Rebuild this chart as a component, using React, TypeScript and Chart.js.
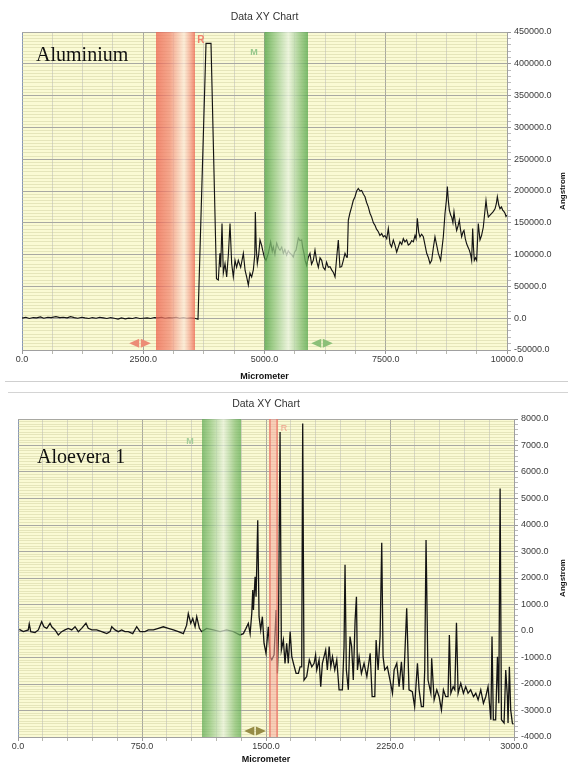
import React, { useEffect, useRef } from 'react';
import { Chart, registerables } from 'chart.js';
Chart.register(...registerables);

// ---------- Chart 1: Aluminium ----------
const alX = [0, 80, 150, 230, 300, 380, 450, 530, 600, 700, 780, 850, 930, 1000, 1080, 1150, 1230, 1300, 1380, 1450, 1530, 1600, 1680, 1750, 1830, 1900, 1980, 2050, 2130, 2200, 2280, 2350, 2430, 2500, 2580, 2650, 2730, 2800, 2880, 2950, 3030, 3100, 3180, 3250, 3330, 3400, 3480, 3560, 3629, 3794, 3897, 4010, 4048, 4080, 4096, 4124, 4151, 4186, 4220, 4255, 4289, 4323, 4357, 4392, 4425, 4460, 4509, 4564, 4600, 4632, 4667, 4701, 4735, 4770, 4800, 4811, 4830, 4852, 4880, 4907, 4940, 4962, 5000, 5031, 5079, 5127, 5160, 5182, 5215, 5251, 5290, 5320, 5355, 5388, 5420, 5457, 5490, 5526, 5560, 5594, 5620, 5650, 5698, 5730, 5766, 5790, 5814, 5840, 5869, 5900, 5938, 5970, 6006, 6041, 6075, 6110, 6145, 6179, 6210, 6247, 6280, 6316, 6351, 6385, 6420, 6454, 6488, 6522, 6555, 6591, 6625, 6660, 6694, 6708, 6728, 6760, 6797, 6830, 6866, 6900, 6934, 6970, 7003, 7040, 7072, 7105, 7140, 7175, 7209, 7245, 7278, 7310, 7347, 7380, 7416, 7450, 7484, 7520, 7553, 7588, 7620, 7656, 7690, 7725, 7760, 7794, 7830, 7862, 7895, 7931, 7965, 8000, 8035, 8069, 8103, 8125, 8151, 8180, 8206, 8240, 8275, 8310, 8344, 8380, 8412, 8447, 8480, 8515, 8550, 8584, 8632, 8660, 8687, 8722, 8750, 8770, 8790, 8811, 8840, 8860, 8885, 8907, 8935, 8962, 8990, 9017, 9040, 9065, 9090, 9113, 9140, 9168, 9195, 9223, 9250, 9271, 9292, 9310, 9326, 9350, 9374, 9408, 9443, 9475, 9511, 9540, 9567, 9590, 9615, 9650, 9684, 9720, 9753, 9780, 9801, 9830, 9856, 9885, 9911, 9935, 9959, 9980, 10000];
const alY = [0, 1500, -500, 1000, 500, 2000, 0, 1500, 1000, 2500, 1000, 1500, 500, 2500, 1000, 0, 1500, 500, -500, 1000, 0, 1500, 500, -500, 1000, 0, -1500, 500, -1000, 0, -500, 1000, -500, 0, 500, -500, 1000, 500, 1500, 0, 1000, 500, 1500, 0, 1000, 0, 500, 0, -1500, 432000, 432000, 62000, 60000, 102000, 80000, 149000, 71000, 86000, 65000, 100000, 149000, 86000, 65000, 91000, 80000, 91000, 80000, 102000, 75000, 65000, 52000, 71000, 65000, 76000, 100000, 167000, 110000, 86000, 100000, 123000, 115000, 107000, 95000, 91000, 102000, 120000, 105000, 112000, 100000, 118000, 110000, 107000, 112000, 102000, 108000, 99000, 106000, 102000, 100000, 96000, 104000, 107000, 126000, 122000, 123000, 110000, 102000, 90000, 83000, 95000, 102000, 85000, 91000, 107000, 90000, 80000, 95000, 91000, 80000, 76000, 88000, 80000, 81000, 76000, 72000, 65000, 95000, 123000, 80000, 81000, 91000, 102000, 96000, 96000, 154000, 165000, 175000, 185000, 191000, 200000, 204000, 200000, 201000, 195000, 191000, 182000, 175000, 165000, 159000, 150000, 146000, 140000, 136000, 130000, 133000, 128000, 130000, 125000, 141000, 117000, 112000, 123000, 115000, 104000, 112000, 120000, 116000, 125000, 120000, 123000, 115000, 117000, 122000, 120000, 130000, 125000, 157000, 135000, 128000, 132000, 128000, 115000, 102000, 95000, 86000, 91000, 110000, 128000, 115000, 102000, 91000, 110000, 128000, 165000, 185000, 207000, 185000, 170000, 162000, 159000, 150000, 167000, 150000, 138000, 145000, 154000, 140000, 128000, 135000, 138000, 125000, 117000, 112000, 107000, 100000, 91000, 141000, 110000, 91000, 95000, 91000, 149000, 123000, 130000, 143000, 165000, 185000, 170000, 159000, 162000, 165000, 168000, 172000, 180000, 191000, 178000, 172000, 175000, 170000, 168000, 165000, 160000, 162000];
const alBandR = [2763, 3567];
const alBandM = [5000, 5897];

// ---------- Chart 2: Aloevera 1 ----------
const aloeX = [8, 32, 62, 68, 77, 103, 123, 143, 157, 174, 194, 204, 224, 244, 264, 284, 304, 325, 345, 365, 385, 411, 425, 446, 476, 506, 537, 557, 567, 587, 607, 627, 647, 667, 694, 718, 738, 768, 788, 819, 849, 879, 909, 940, 970, 1000, 1020, 1030, 1045, 1057, 1071, 1081, 1097, 1111, 1141, 1181, 1222, 1262, 1303, 1343, 1363, 1379, 1393, 1404, 1414, 1420, 1424, 1434, 1440, 1450, 1458, 1468, 1478, 1488, 1500, 1514, 1525, 1535, 1549, 1561, 1569, 1575, 1585, 1593, 1605, 1615, 1625, 1635, 1646, 1656, 1666, 1682, 1696, 1706, 1716, 1722, 1730, 1746, 1762, 1777, 1791, 1800, 1807, 1821, 1831, 1841, 1851, 1861, 1871, 1882, 1892, 1902, 1916, 1928, 1942, 1962, 1972, 1978, 1986, 1998, 2008, 2018, 2028, 2039, 2047, 2053, 2063, 2077, 2093, 2110, 2130, 2142, 2158, 2166, 2178, 2190, 2200, 2208, 2218, 2234, 2250, 2265, 2275, 2291, 2305, 2319, 2331, 2351, 2365, 2385, 2399, 2416, 2426, 2440, 2452, 2460, 2468, 2480, 2497, 2502, 2517, 2533, 2547, 2561, 2573, 2587, 2601, 2609, 2618, 2632, 2642, 2652, 2662, 2678, 2694, 2708, 2722, 2738, 2755, 2769, 2783, 2799, 2815, 2829, 2843, 2860, 2867, 2875, 2889, 2900, 2908, 2916, 2924, 2940, 2950, 2960, 2964, 2972, 2980, 2990, 2996];
const aloeY = [60, -25, 40, 265, -25, -60, 40, 350, 160, 100, 290, 160, 40, -150, -25, 40, 100, 40, 160, -25, 100, 290, 100, 40, 40, -25, -100, -25, 160, 40, -25, 40, -25, -25, -100, 160, -25, -25, 40, 40, 100, 160, 100, 40, -25, -100, 220, 660, 290, 470, 160, 540, 100, -25, 100, 40, -25, 40, -25, -150, -100, 100, 290, -100, 670, 1550, 790, 2050, 1290, 4180, 540, 40, 540, -460, -840, 160, -970, -1090, -900, 790, -1600, -210, 7510, -720, -340, -1220, -460, -1220, -25, -970, -1220, -1600, -1600, -1350, -1350, 7830, -1850, -1720, -1090, -1350, -1220, -900, -1470, -1090, -2100, -1220, -970, -720, -1470, -590, -1350, -970, -1470, -1090, -2220, -2220, -590, 2500, -1470, -2220, -210, -590, -1850, 410, 1290, -1470, -970, -1600, -1220, -1720, -840, -2480, -2480, -340, -1470, -210, 3330, -970, -1470, -1350, -1850, -2350, -1470, -1220, -2100, -1160, -2220, 860, -2220, -2290, -2850, -1220, -2220, -2850, -2850, -1470, 3430, -1850, -2350, -1030, -2600, -2220, -2480, -2980, -2220, -2480, -2480, -150, -2350, -2100, -2220, 310, -2350, -1970, -2350, -2100, -2350, -2220, -2480, -2350, -2600, -2220, -2730, -2480, -2100, -3350, -210, -3350, -3350, -970, -2730, 5380, -3350, -3470, -1470, -2480, -3470, -1350, -2980, -3470, -3520];
const aloeBandM = [1113, 1349];
const aloeBandR = [1524, 1567];

const FONT = '"Liberation Sans", Arial, sans-serif';

type Cfg = {
  xs: number[]; ys: number[];
  xMin: number; xMax: number; xStep: number; xMajor: number;
  yMin: number; yMax: number; yStep: number; yMajor: number; yTickEvery: number;
  padTop: number; padLeft: number; yW: number; xH: number; lineW: number;
  name: string; nameAt: [number, number];
  draw: (ctx: CanvasRenderingContext2D, sx: (v: number) => number, sy: (v: number) => number, a: any) => void;
};

function grad(ctx: CanvasRenderingContext2D, x0: number, x1: number, stops: [number, string][]) {
  const g = ctx.createLinearGradient(x0, 0, x1, 0);
  stops.forEach(([o, c]) => g.addColorStop(o, c));
  return g;
}

function pair(ctx: CanvasRenderingContext2D, cx: number, cy: number, color: string) {
  const w = 10, h = 9, gap = 0.8;
  ctx.fillStyle = color;
  ctx.beginPath(); ctx.moveTo(cx - gap, cy - h / 2); ctx.lineTo(cx - gap, cy + h / 2); ctx.lineTo(cx - gap - w, cy); ctx.closePath(); ctx.fill();
  ctx.beginPath(); ctx.moveTo(cx + gap, cy - h / 2); ctx.lineTo(cx + gap, cy + h / 2); ctx.lineTo(cx + gap + w, cy); ctx.closePath(); ctx.fill();
}

function tag(ctx: CanvasRenderingContext2D, text: string, x: number, y: number, color: string, font: string) {
  ctx.fillStyle = color; ctx.font = font; ctx.textAlign = 'center'; ctx.textBaseline = 'middle';
  ctx.fillText(text, x, y);
}

function makeChart(canvas: HTMLCanvasElement, c: Cfg) {
  const isMaj = (v: number, m: number) => Math.abs(v / m - Math.round(v / m)) < 1e-6;
  const plugin = {
    id: 'deco_' + c.name.replace(/\s/g, ''),
    beforeDraw(chart: any) {
      const { ctx, chartArea: a } = chart;
      ctx.save();
      ctx.fillStyle = '#FAFAD4';
      ctx.fillRect(a.left, a.top, a.right - a.left, a.bottom - a.top);
      ctx.restore();
    },
    afterDatasetsDraw(chart: any) {
      const { ctx, chartArea: a } = chart;
      const sx = (v: number) => chart.scales.x.getPixelForValue(v);
      const sy = (v: number) => chart.scales.y.getPixelForValue(v);
      ctx.save();
      c.draw(ctx, sx, sy, a);
      ctx.globalAlpha = 1;
      ctx.fillStyle = '#111';
      ctx.font = '20px "Liberation Serif", "Times New Roman", serif';
      ctx.textAlign = 'left'; ctx.textBaseline = 'alphabetic';
      ctx.fillText(c.name, sx(c.nameAt[0]), sy(c.nameAt[1]));
      ctx.fillStyle = '#333';
      ctx.font = '10.5px ' + FONT;
      ctx.textAlign = 'center'; ctx.textBaseline = 'middle';
      ctx.fillText('Data XY Chart', (a.left + a.right) / 2, a.top - 15);
      ctx.translate(chart.width - 5, (a.top + a.bottom) / 2);
      ctx.rotate(-Math.PI / 2);
      ctx.fillStyle = '#111';
      ctx.font = 'bold 8px ' + FONT;
      ctx.fillText('Angstrom', 0, 0);
      ctx.restore();
    },
  };
  return new Chart(canvas, {
    type: 'line',
    data: {
      datasets: [{
        data: c.xs.map((x, i) => ({ x, y: c.ys[i] })),
        borderColor: '#141414', borderWidth: c.lineW, pointRadius: 0, tension: 0, fill: false,
      }],
    },
    options: {
      responsive: false, animation: false,
      layout: { padding: { top: c.padTop, left: c.padLeft, right: 0, bottom: 0 } },
      plugins: { legend: { display: false }, tooltip: { enabled: false }, title: { display: false } },
      scales: {
        x: {
          type: 'linear', position: 'bottom', min: c.xMin, max: c.xMax,
          afterFit: (s: any) => { s.height = c.xH; },
          ticks: {
            stepSize: c.xStep, autoSkip: false, maxRotation: 0, padding: 0,
            color: '#3a3a3a', font: { family: FONT, size: 9 },
            callback: (v: any) => (isMaj(Number(v), c.xMajor) ? Number(v).toFixed(1) : ''),
          },
          grid: {
            lineWidth: 1, tickLength: 4,
            color: (ctx: any) => {
              const v = ctx.tick ? ctx.tick.value : 0;
              if (v === c.xMin) return '#8796b8';
              return isMaj(v, c.xMajor) ? '#a8a8a2' : '#d8d8c6';
            },
            tickColor: (ctx: any) => (ctx.tick && isMaj(ctx.tick.value, c.xMajor) ? '#999' : '#b8b8b0'),
          },
          border: { color: '#a0a0a0' },
          title: { display: true, text: 'Micrometer', color: '#111', font: { family: FONT, size: 9, weight: 'bold', lineHeight: 1 }, padding: { top: 0, bottom: -1 } },
        },
        y: {
          type: 'linear', position: 'right', min: c.yMin, max: c.yMax,
          afterFit: (s: any) => { s.width = c.yW; },
          ticks: {
            stepSize: c.yStep, autoSkip: false, padding: 3,
            color: '#3a3a3a', font: { family: FONT, size: 9 },
            callback: (v: any) => (isMaj(Number(v), c.yMajor) ? Number(v).toFixed(1) : ''),
          },
          grid: {
            lineWidth: 1, tickLength: 4,
            color: (ctx: any) => {
              const v = ctx.tick ? ctx.tick.value : 0;
              return isMaj(v, c.yMajor) ? '#a8a8a2' : 'rgba(200,200,150,0.42)';
            },
            tickColor: (ctx: any) => {
              const v = ctx.tick ? ctx.tick.value : 0;
              if (isMaj(v, c.yMajor)) return '#999';
              return isMaj(v, c.yTickEvery) ? '#bbb' : 'rgba(0,0,0,0)';
            },
          },
          border: { color: '#a0a0a0' },
        },
      },
    } as any,
    plugins: [plugin],
  });
}

export default function App() {
  const r1 = useRef<HTMLCanvasElement>(null);
  const r2 = useRef<HTMLCanvasElement>(null);
  useEffect(() => {
    const c1 = makeChart(r1.current!, {
      xs: alX, ys: alY, xMin: 0, xMax: 10000, xStep: 625, xMajor: 2500,
      yMin: -50000, yMax: 450000, yStep: 5000, yMajor: 50000, yTickEvery: 10000,
      padTop: 32, padLeft: 22, yW: 61, xH: 30, lineW: 1.15,
      name: 'Aluminium', nameAt: [289, 404000],
      draw: (ctx, sx, sy, a) => {
        let x0 = sx(alBandR[0]), x1 = sx(alBandR[1]);
        ctx.globalAlpha = 0.74;
        ctx.fillStyle = grad(ctx, x0, x1, [[0, 'rgb(238,96,76)'], [0.35, 'rgb(243,136,114)'], [0.72, 'rgb(252,232,216)'], [0.88, 'rgb(245,160,140)'], [1, 'rgb(238,96,76)']]);
        ctx.fillRect(x0, a.top, x1 - x0, a.bottom - a.top);
        x0 = sx(alBandM[0]); x1 = sx(alBandM[1]);
        ctx.globalAlpha = 0.78;
        ctx.fillStyle = grad(ctx, x0, x1, [[0, 'rgb(80,162,70)'], [0.2, 'rgb(138,195,122)'], [0.55, 'rgb(232,242,222)'], [0.85, 'rgb(132,190,115)'], [1, 'rgb(88,168,78)']]);
        ctx.fillRect(x0, a.top, x1 - x0, a.bottom - a.top);
        ctx.globalAlpha = 1;
        tag(ctx, 'R', sx(3690), sy(437000), 'rgb(240,128,108)', 'bold 10px ' + FONT);
        tag(ctx, 'M', sx(4783), sy(418000), 'rgb(150,200,140)', 'bold 9px ' + FONT);
        pair(ctx, sx(2433), sy(-39300), 'rgb(236,140,118)');
        pair(ctx, sx(6186), sy(-39300), 'rgb(140,192,120)');
      },
    });
    const c2 = makeChart(r2.current!, {
      xs: aloeX, ys: aloeY, xMin: 0, xMax: 3000, xStep: 150, xMajor: 750,
      yMin: -4000, yMax: 8000, yStep: 100, yMajor: 1000, yTickEvery: 200,
      padTop: 27, padLeft: 18, yW: 54, xH: 26, lineW: 1.3,
      name: 'Aloevera 1', nameAt: [115, 6330],
      draw: (ctx, sx, sy, a) => {
        let x0 = sx(aloeBandM[0]), x1 = sx(aloeBandM[1]);
        ctx.globalAlpha = 0.72;
        ctx.fillStyle = grad(ctx, x0, x1, [[0, 'rgb(90,168,80)'], [0.2, 'rgb(138,195,122)'], [0.55, 'rgb(230,241,220)'], [0.85, 'rgb(132,190,115)'], [1, 'rgb(95,172,84)']]);
        ctx.fillRect(x0, a.top, x1 - x0, a.bottom - a.top);
        x0 = sx(aloeBandR[0]); x1 = sx(aloeBandR[1]);
        ctx.globalAlpha = 0.55;
        ctx.fillStyle = 'rgb(246,170,158)';
        ctx.fillRect(x0 - 1, a.top, x1 - x0 + 2, a.bottom - a.top);
        ctx.globalAlpha = 0.75;
        ctx.strokeStyle = 'rgb(232,110,95)'; ctx.lineWidth = 1.5;
        ctx.beginPath(); ctx.moveTo(x0, a.top); ctx.lineTo(x0, a.bottom); ctx.moveTo(x1, a.top); ctx.lineTo(x1, a.bottom); ctx.stroke();
        ctx.globalAlpha = 1;
        tag(ctx, 'M', sx(1040), sy(7160), 'rgb(165,205,155)', 'bold 9px ' + FONT);
        tag(ctx, 'R', sx(1609), sy(7650), 'rgb(240,160,140)', '9px ' + FONT);
        pair(ctx, sx(1434), sy(-3770), 'rgb(150,140,70)');
      },
    });
    return () => { c1.destroy(); c2.destroy(); };
  }, []);
  return (
    <div style={{ position: 'absolute', left: 0, top: 0, width: 568, height: 763, background: '#fff', overflow: 'hidden' }}>
      <canvas ref={r1} width={568} height={380} style={{ position: 'absolute', left: 0, top: 0, display: 'block' }} />
      <div style={{ position: 'absolute', left: 5, top: 381, width: 563, height: 1, background: '#cfcfcf' }} />
      <div style={{ position: 'absolute', left: 8, top: 392, width: 560, height: 1, background: '#d4d4d4' }} />
      <canvas ref={r2} width={568} height={371} style={{ position: 'absolute', left: 0, top: 392, display: 'block' }} />
    </div>
  );
}
